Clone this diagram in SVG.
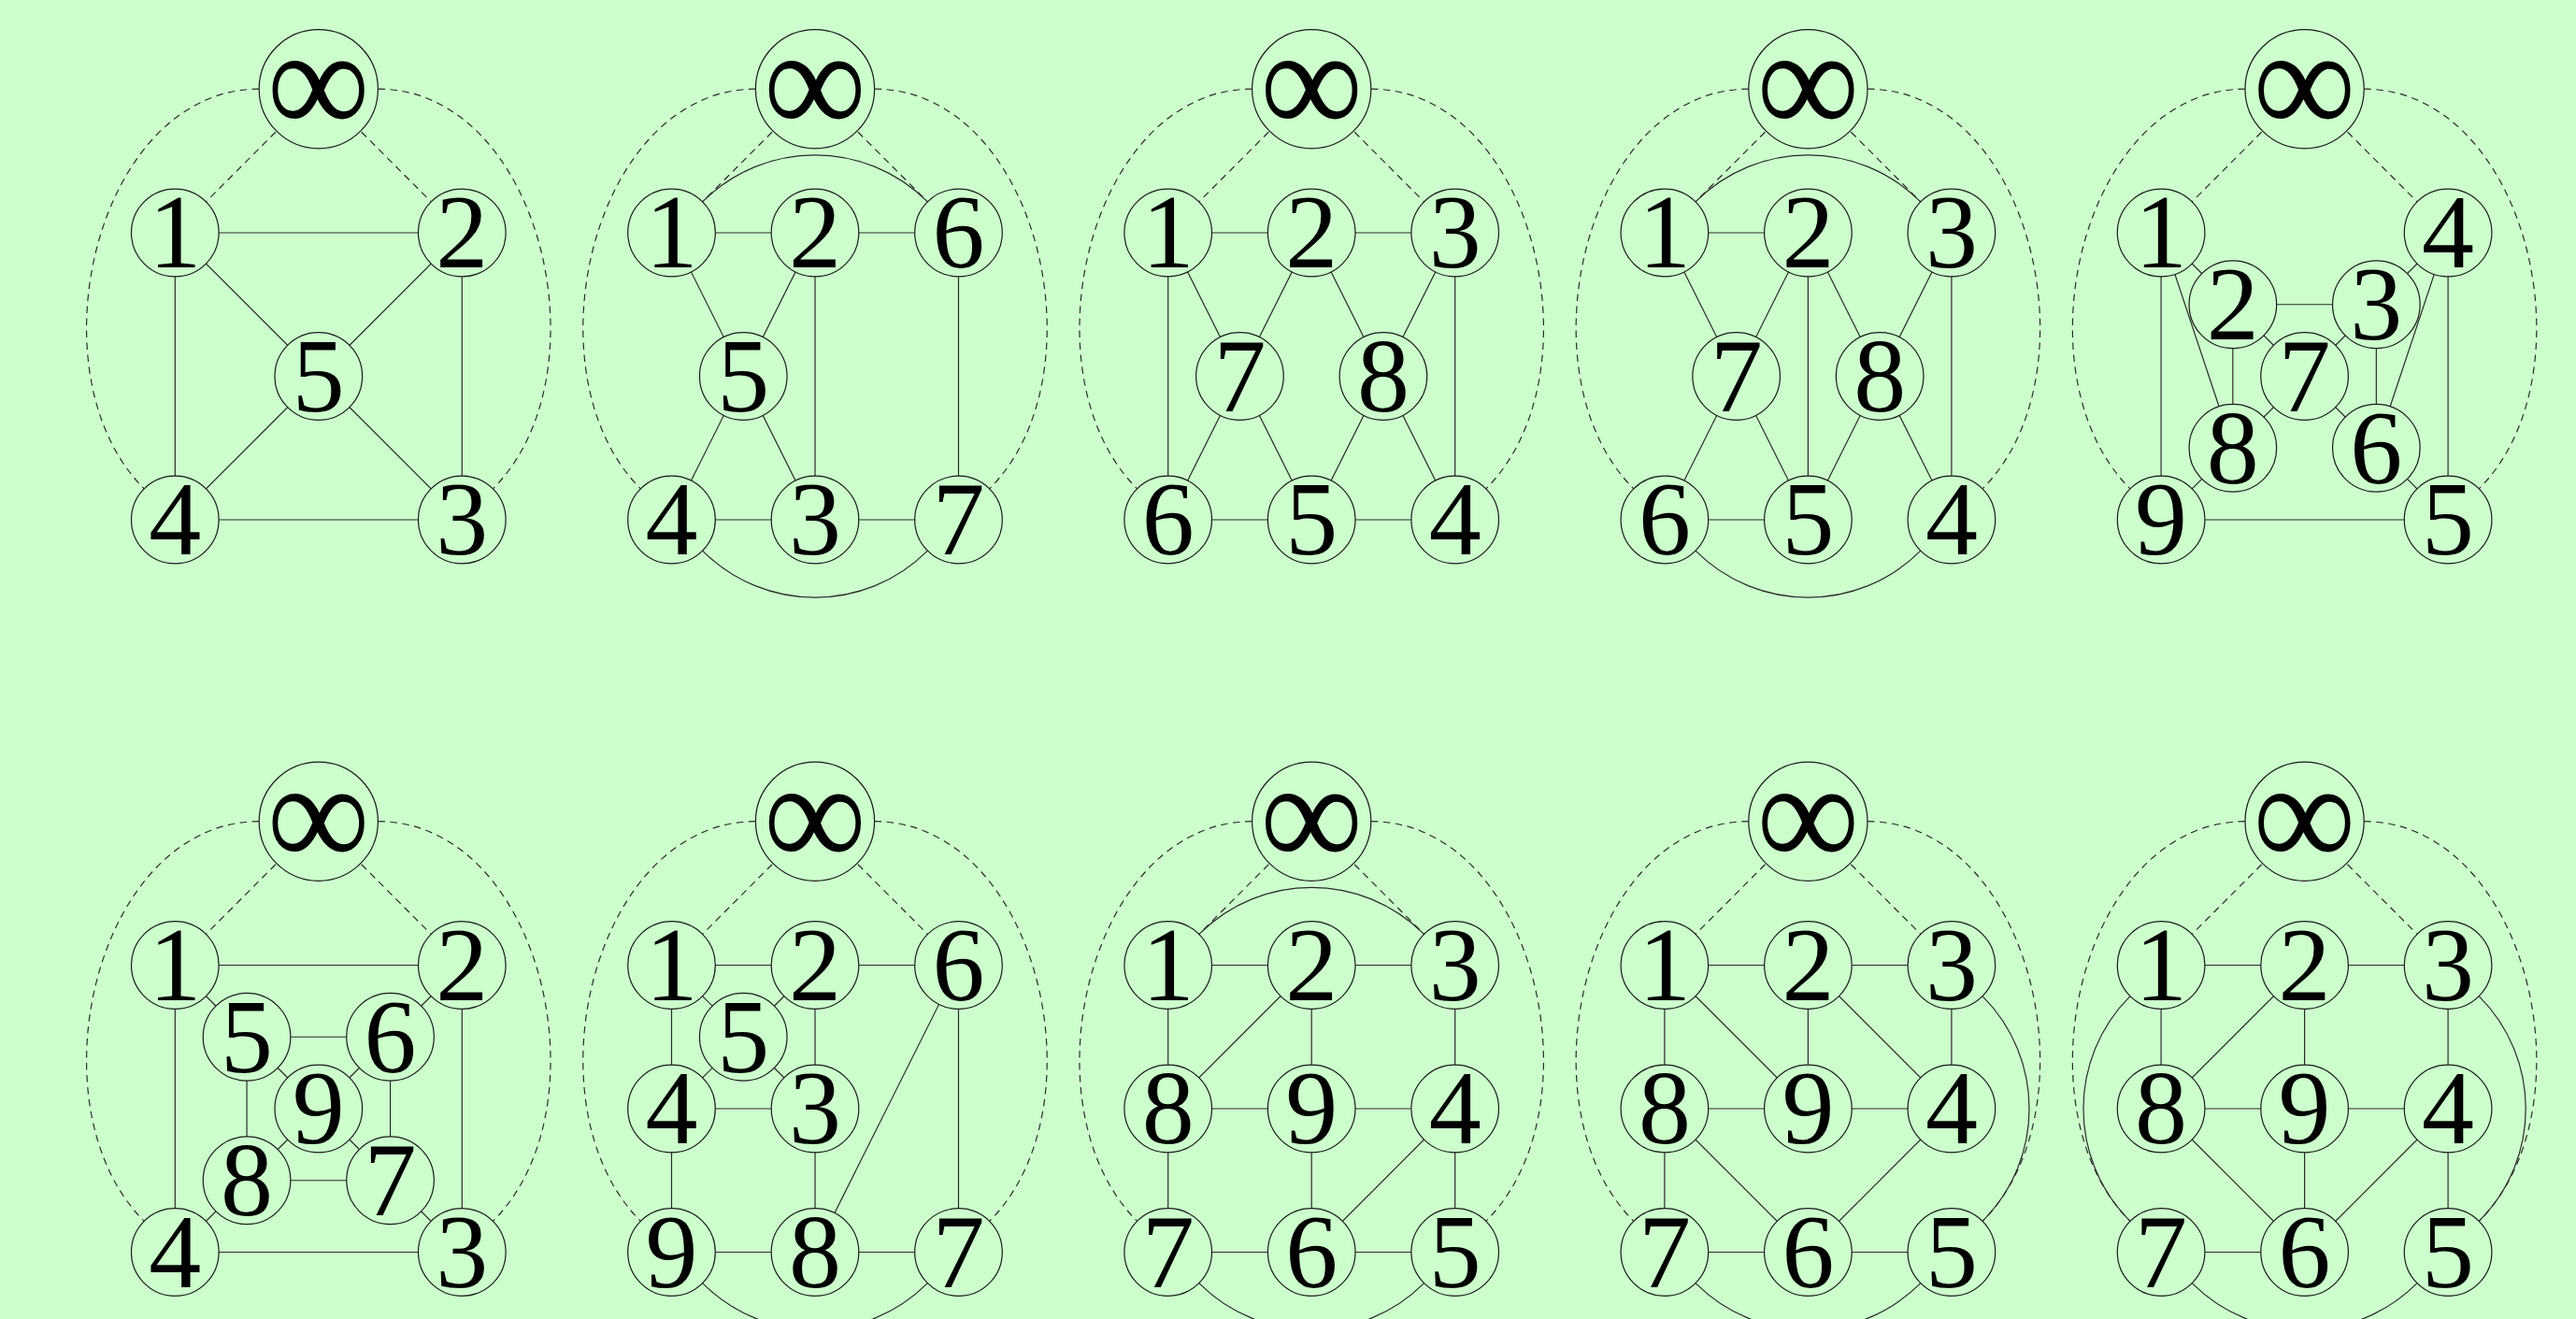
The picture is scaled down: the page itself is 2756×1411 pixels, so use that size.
<svg xmlns="http://www.w3.org/2000/svg" width="2756" height="1411" viewBox="0 0 2756 1411">
<style>
.e{stroke:#2a2a2a;stroke-width:1.2;fill:none}
.d{stroke:#2a2a2a;stroke-width:1.2;fill:none;stroke-dasharray:7.5 5.5}
.n circle{fill:#ccffcc;stroke:#1a1a1a;stroke-width:1.2}
.n text{font-family:"Liberation Serif","DejaVu Serif",serif;font-size:112px;text-anchor:middle;fill:#000}
.n text.inf{font-size:165px}
</style>
<defs>
<g id="dash">
<line x1="0" y1="0" x2="-153.5" y2="153.8"/>
<line x1="0" y1="0" x2="153.5" y2="153.8"/>
<path d="M-63.6 0C-237.8 0 -309.8 304.5 -186.6 427.7"/>
<path d="M63.6 0C237.8 0 309.8 304.5 186.6 427.7"/>
</g>
<g id="inf" class="n"><circle cx="0" cy="0" r="63.6"/><text class="inf" x="0" y="49" textLength="110" lengthAdjust="spacingAndGlyphs">∞</text></g>
</defs>
<rect width="2756" height="1411" fill="#ccffcc"/>

<!-- Panel 1 -->
<g id="panel1" transform="translate(340.8,95.2)">
<g id="p1-edges">
<use href="#dash" class="d"/>
<g class="e">
<line x1="-153.5" y1="153.8" x2="153.5" y2="153.8"/>
<line x1="-153.5" y1="153.8" x2="-153.5" y2="460.8"/>
<line x1="153.5" y1="153.8" x2="153.5" y2="460.8"/>
<line x1="-153.5" y1="460.8" x2="153.5" y2="460.8"/>
<line x1="-153.5" y1="153.8" x2="0" y2="307.3"/>
<line x1="153.5" y1="153.8" x2="0" y2="307.3"/>
<line x1="-153.5" y1="460.8" x2="0" y2="307.3"/>
<line x1="153.5" y1="460.8" x2="0" y2="307.3"/>
</g>
</g>
<g id="p1-inf"><use href="#inf"/></g>
<g id="p1-n1" class="n"><circle cx="-153.5" cy="153.8" r="46.8"/><text x="-153.5" y="191.3">1</text></g>
<g id="p1-n2" class="n"><circle cx="153.5" cy="153.8" r="46.8"/><text x="153.5" y="191.3">2</text></g>
<g id="p1-n5" class="n"><circle cx="0" cy="307.3" r="46.8"/><text x="0" y="344.8">5</text></g>
<g id="p1-n4" class="n"><circle cx="-153.5" cy="460.8" r="46.8"/><text x="-153.5" y="498.3">4</text></g>
<g id="p1-n3" class="n"><circle cx="153.5" cy="460.8" r="46.8"/><text x="153.5" y="498.3">3</text></g>
</g>

<!-- Panel 2 -->
<g id="panel2" transform="translate(872,95.2)">
<g id="p2-edges">
<use href="#dash" class="d"/>
<g class="e">
<line x1="-153.5" y1="153.8" x2="0" y2="153.8"/>
<line x1="0" y1="153.8" x2="153.5" y2="153.8"/>
<line x1="-153.5" y1="153.8" x2="-76.75" y2="307.3"/>
<line x1="0" y1="153.8" x2="-76.75" y2="307.3"/>
<line x1="0" y1="153.8" x2="0" y2="460.8"/>
<line x1="-76.75" y1="307.3" x2="-153.5" y2="460.8"/>
<line x1="-76.75" y1="307.3" x2="0" y2="460.8"/>
<line x1="-153.5" y1="460.8" x2="0" y2="460.8"/>
<line x1="0" y1="460.8" x2="153.5" y2="460.8"/>
<line x1="153.5" y1="153.8" x2="153.5" y2="460.8"/>
<path d="M-120.4 120.7C-53.7 54 53.7 54 120.4 120.7"/>
<path d="M-120.4 493.9C-53.7 560.6 53.7 560.6 120.4 493.9"/>
</g>
</g>
<g id="p2-inf"><use href="#inf"/></g>
<g id="p2-n1" class="n"><circle cx="-153.5" cy="153.8" r="46.8"/><text x="-153.5" y="191.3">1</text></g>
<g id="p2-n2" class="n"><circle cx="0" cy="153.8" r="46.8"/><text x="0" y="191.3">2</text></g>
<g id="p2-n6" class="n"><circle cx="153.5" cy="153.8" r="46.8"/><text x="153.5" y="191.3">6</text></g>
<g id="p2-n5" class="n"><circle cx="-76.75" cy="307.3" r="46.8"/><text x="-76.75" y="344.8">5</text></g>
<g id="p2-n4" class="n"><circle cx="-153.5" cy="460.8" r="46.8"/><text x="-153.5" y="498.3">4</text></g>
<g id="p2-n3" class="n"><circle cx="0" cy="460.8" r="46.8"/><text x="0" y="498.3">3</text></g>
<g id="p2-n7" class="n"><circle cx="153.5" cy="460.8" r="46.8"/><text x="153.5" y="498.3">7</text></g>
</g>

<!-- Panel 3 -->
<g id="panel3" transform="translate(1403.2,95.2)">
<g id="p3-edges">
<use href="#dash" class="d"/>
<g class="e">
<line x1="-153.5" y1="153.8" x2="0" y2="153.8"/>
<line x1="0" y1="153.8" x2="153.5" y2="153.8"/>
<line x1="-153.5" y1="153.8" x2="-153.5" y2="460.8"/>
<line x1="153.5" y1="153.8" x2="153.5" y2="460.8"/>
<line x1="-153.5" y1="460.8" x2="0" y2="460.8"/>
<line x1="0" y1="460.8" x2="153.5" y2="460.8"/>
<line x1="-153.5" y1="153.8" x2="-76.75" y2="307.3"/>
<line x1="0" y1="153.8" x2="-76.75" y2="307.3"/>
<line x1="0" y1="153.8" x2="76.75" y2="307.3"/>
<line x1="153.5" y1="153.8" x2="76.75" y2="307.3"/>
<line x1="-76.75" y1="307.3" x2="-153.5" y2="460.8"/>
<line x1="-76.75" y1="307.3" x2="0" y2="460.8"/>
<line x1="76.75" y1="307.3" x2="0" y2="460.8"/>
<line x1="76.75" y1="307.3" x2="153.5" y2="460.8"/>
</g>
</g>
<g id="p3-inf"><use href="#inf"/></g>
<g id="p3-n1" class="n"><circle cx="-153.5" cy="153.8" r="46.8"/><text x="-153.5" y="191.3">1</text></g>
<g id="p3-n2" class="n"><circle cx="0" cy="153.8" r="46.8"/><text x="0" y="191.3">2</text></g>
<g id="p3-n3" class="n"><circle cx="153.5" cy="153.8" r="46.8"/><text x="153.5" y="191.3">3</text></g>
<g id="p3-n7" class="n"><circle cx="-76.75" cy="307.3" r="46.8"/><text x="-76.75" y="344.8">7</text></g>
<g id="p3-n8" class="n"><circle cx="76.75" cy="307.3" r="46.8"/><text x="76.75" y="344.8">8</text></g>
<g id="p3-n6" class="n"><circle cx="-153.5" cy="460.8" r="46.8"/><text x="-153.5" y="498.3">6</text></g>
<g id="p3-n5" class="n"><circle cx="0" cy="460.8" r="46.8"/><text x="0" y="498.3">5</text></g>
<g id="p3-n4" class="n"><circle cx="153.5" cy="460.8" r="46.8"/><text x="153.5" y="498.3">4</text></g>
</g>

<!-- Panel 4 -->
<g id="panel4" transform="translate(1934.4,95.2)">
<g id="p4-edges">
<use href="#dash" class="d"/>
<g class="e">
<line x1="-153.5" y1="153.8" x2="0" y2="153.8"/>
<line x1="-153.5" y1="153.8" x2="-76.75" y2="307.3"/>
<line x1="0" y1="153.8" x2="-76.75" y2="307.3"/>
<line x1="0" y1="153.8" x2="76.75" y2="307.3"/>
<line x1="153.5" y1="153.8" x2="76.75" y2="307.3"/>
<line x1="0" y1="153.8" x2="0" y2="460.8"/>
<line x1="153.5" y1="153.8" x2="153.5" y2="460.8"/>
<line x1="-76.75" y1="307.3" x2="-153.5" y2="460.8"/>
<line x1="-76.75" y1="307.3" x2="0" y2="460.8"/>
<line x1="76.75" y1="307.3" x2="0" y2="460.8"/>
<line x1="76.75" y1="307.3" x2="153.5" y2="460.8"/>
<line x1="-153.5" y1="460.8" x2="0" y2="460.8"/>
<path d="M-120.4 120.7C-53.7 54 53.7 54 120.4 120.7"/>
<path d="M-120.4 493.9C-53.7 560.6 53.7 560.6 120.4 493.9"/>
</g>
</g>
<g id="p4-inf"><use href="#inf"/></g>
<g id="p4-n1" class="n"><circle cx="-153.5" cy="153.8" r="46.8"/><text x="-153.5" y="191.3">1</text></g>
<g id="p4-n2" class="n"><circle cx="0" cy="153.8" r="46.8"/><text x="0" y="191.3">2</text></g>
<g id="p4-n3" class="n"><circle cx="153.5" cy="153.8" r="46.8"/><text x="153.5" y="191.3">3</text></g>
<g id="p4-n7" class="n"><circle cx="-76.75" cy="307.3" r="46.8"/><text x="-76.75" y="344.8">7</text></g>
<g id="p4-n8" class="n"><circle cx="76.75" cy="307.3" r="46.8"/><text x="76.75" y="344.8">8</text></g>
<g id="p4-n6" class="n"><circle cx="-153.5" cy="460.8" r="46.8"/><text x="-153.5" y="498.3">6</text></g>
<g id="p4-n5" class="n"><circle cx="0" cy="460.8" r="46.8"/><text x="0" y="498.3">5</text></g>
<g id="p4-n4" class="n"><circle cx="153.5" cy="460.8" r="46.8"/><text x="153.5" y="498.3">4</text></g>
</g>

<!-- Panel 5 -->
<g id="panel5" transform="translate(2465.6,95.2)">
<g id="p5-edges">
<use href="#dash" class="d"/>
<g class="e">
<line x1="-153.5" y1="153.8" x2="-153.5" y2="460.8"/>
<line x1="153.5" y1="153.8" x2="153.5" y2="460.8"/>
<line x1="-153.5" y1="460.8" x2="153.5" y2="460.8"/>
<line x1="-153.5" y1="153.8" x2="-76.75" y2="230.55"/>
<line x1="153.5" y1="153.8" x2="76.75" y2="230.55"/>
<line x1="-153.5" y1="153.8" x2="-76.75" y2="384.05"/>
<line x1="153.5" y1="153.8" x2="76.75" y2="384.05"/>
<line x1="-76.75" y1="230.55" x2="76.75" y2="230.55"/>
<line x1="-76.75" y1="230.55" x2="-76.75" y2="384.05"/>
<line x1="76.75" y1="230.55" x2="76.75" y2="384.05"/>
<line x1="-76.75" y1="230.55" x2="0" y2="307.3"/>
<line x1="76.75" y1="230.55" x2="0" y2="307.3"/>
<line x1="-76.75" y1="384.05" x2="0" y2="307.3"/>
<line x1="76.75" y1="384.05" x2="0" y2="307.3"/>
<line x1="-76.75" y1="384.05" x2="-153.5" y2="460.8"/>
<line x1="76.75" y1="384.05" x2="153.5" y2="460.8"/>
</g>
</g>
<g id="p5-inf"><use href="#inf"/></g>
<g id="p5-n1" class="n"><circle cx="-153.5" cy="153.8" r="46.8"/><text x="-153.5" y="191.3">1</text></g>
<g id="p5-n4" class="n"><circle cx="153.5" cy="153.8" r="46.8"/><text x="153.5" y="191.3">4</text></g>
<g id="p5-n2" class="n"><circle cx="-76.75" cy="230.55" r="46.8"/><text x="-76.75" y="268.05">2</text></g>
<g id="p5-n3" class="n"><circle cx="76.75" cy="230.55" r="46.8"/><text x="76.75" y="268.05">3</text></g>
<g id="p5-n7" class="n"><circle cx="0" cy="307.3" r="46.8"/><text x="0" y="344.8">7</text></g>
<g id="p5-n8" class="n"><circle cx="-76.75" cy="384.05" r="46.8"/><text x="-76.75" y="421.55">8</text></g>
<g id="p5-n6" class="n"><circle cx="76.75" cy="384.05" r="46.8"/><text x="76.75" y="421.55">6</text></g>
<g id="p5-n9" class="n"><circle cx="-153.5" cy="460.8" r="46.8"/><text x="-153.5" y="498.3">9</text></g>
<g id="p5-n5" class="n"><circle cx="153.5" cy="460.8" r="46.8"/><text x="153.5" y="498.3">5</text></g>
</g>

<!-- Panel 6 -->
<g id="panel6" transform="translate(340.8,878.7)">
<g id="p6-edges">
<use href="#dash" class="d"/>
<g class="e">
<line x1="-153.5" y1="153.8" x2="153.5" y2="153.8"/>
<line x1="-153.5" y1="153.8" x2="-153.5" y2="460.8"/>
<line x1="153.5" y1="153.8" x2="153.5" y2="460.8"/>
<line x1="-153.5" y1="460.8" x2="153.5" y2="460.8"/>
<line x1="-153.5" y1="153.8" x2="-76.75" y2="230.55"/>
<line x1="153.5" y1="153.8" x2="76.75" y2="230.55"/>
<line x1="-153.5" y1="460.8" x2="-76.75" y2="384.05"/>
<line x1="153.5" y1="460.8" x2="76.75" y2="384.05"/>
<line x1="-76.75" y1="230.55" x2="76.75" y2="230.55"/>
<line x1="-76.75" y1="230.55" x2="-76.75" y2="384.05"/>
<line x1="76.75" y1="230.55" x2="76.75" y2="384.05"/>
<line x1="-76.75" y1="384.05" x2="76.75" y2="384.05"/>
<line x1="-76.75" y1="230.55" x2="0" y2="307.3"/>
<line x1="76.75" y1="230.55" x2="0" y2="307.3"/>
<line x1="-76.75" y1="384.05" x2="0" y2="307.3"/>
<line x1="76.75" y1="384.05" x2="0" y2="307.3"/>
</g>
</g>
<g id="p6-inf"><use href="#inf"/></g>
<g id="p6-n1" class="n"><circle cx="-153.5" cy="153.8" r="46.8"/><text x="-153.5" y="191.3">1</text></g>
<g id="p6-n2" class="n"><circle cx="153.5" cy="153.8" r="46.8"/><text x="153.5" y="191.3">2</text></g>
<g id="p6-n5" class="n"><circle cx="-76.75" cy="230.55" r="46.8"/><text x="-76.75" y="268.05">5</text></g>
<g id="p6-n6" class="n"><circle cx="76.75" cy="230.55" r="46.8"/><text x="76.75" y="268.05">6</text></g>
<g id="p6-n9" class="n"><circle cx="0" cy="307.3" r="46.8"/><text x="0" y="344.8">9</text></g>
<g id="p6-n8" class="n"><circle cx="-76.75" cy="384.05" r="46.8"/><text x="-76.75" y="421.55">8</text></g>
<g id="p6-n7" class="n"><circle cx="76.75" cy="384.05" r="46.8"/><text x="76.75" y="421.55">7</text></g>
<g id="p6-n4" class="n"><circle cx="-153.5" cy="460.8" r="46.8"/><text x="-153.5" y="498.3">4</text></g>
<g id="p6-n3" class="n"><circle cx="153.5" cy="460.8" r="46.8"/><text x="153.5" y="498.3">3</text></g>
</g>

<!-- Panel 7 -->
<g id="panel7" transform="translate(872,878.7)">
<g id="p7-edges">
<use href="#dash" class="d"/>
<g class="e">
<line x1="-153.5" y1="153.8" x2="0" y2="153.8"/>
<line x1="0" y1="153.8" x2="153.5" y2="153.8"/>
<line x1="-153.5" y1="153.8" x2="-76.75" y2="230.55"/>
<line x1="0" y1="153.8" x2="-76.75" y2="230.55"/>
<line x1="-153.5" y1="153.8" x2="-153.5" y2="460.8"/>
<line x1="0" y1="153.8" x2="0" y2="460.8"/>
<line x1="-153.5" y1="307.3" x2="-76.75" y2="230.55"/>
<line x1="0" y1="307.3" x2="-76.75" y2="230.55"/>
<line x1="-153.5" y1="307.3" x2="0" y2="307.3"/>
<line x1="-153.5" y1="460.8" x2="153.5" y2="460.8"/>
<line x1="153.5" y1="153.8" x2="153.5" y2="460.8"/>
<line x1="153.5" y1="153.8" x2="0" y2="460.8"/>
<path d="M-120.4 493.9C-53.7 560.6 53.7 560.6 120.4 493.9"/>
</g>
</g>
<g id="p7-inf"><use href="#inf"/></g>
<g id="p7-n1" class="n"><circle cx="-153.5" cy="153.8" r="46.8"/><text x="-153.5" y="191.3">1</text></g>
<g id="p7-n2" class="n"><circle cx="0" cy="153.8" r="46.8"/><text x="0" y="191.3">2</text></g>
<g id="p7-n6" class="n"><circle cx="153.5" cy="153.8" r="46.8"/><text x="153.5" y="191.3">6</text></g>
<g id="p7-n5" class="n"><circle cx="-76.75" cy="230.55" r="46.8"/><text x="-76.75" y="268.05">5</text></g>
<g id="p7-n4" class="n"><circle cx="-153.5" cy="307.3" r="46.8"/><text x="-153.5" y="344.8">4</text></g>
<g id="p7-n3" class="n"><circle cx="0" cy="307.3" r="46.8"/><text x="0" y="344.8">3</text></g>
<g id="p7-n9" class="n"><circle cx="-153.5" cy="460.8" r="46.8"/><text x="-153.5" y="498.3">9</text></g>
<g id="p7-n8" class="n"><circle cx="0" cy="460.8" r="46.8"/><text x="0" y="498.3">8</text></g>
<g id="p7-n7" class="n"><circle cx="153.5" cy="460.8" r="46.8"/><text x="153.5" y="498.3">7</text></g>
</g>

<!-- Panel 8 -->
<g id="panel8" transform="translate(1403.2,878.7)">
<g id="p8-edges">
<use href="#dash" class="d"/>
<g class="e">
<line x1="-153.5" y1="153.8" x2="153.5" y2="153.8"/>
<line x1="-153.5" y1="307.3" x2="153.5" y2="307.3"/>
<line x1="-153.5" y1="460.8" x2="153.5" y2="460.8"/>
<line x1="-153.5" y1="153.8" x2="-153.5" y2="460.8"/>
<line x1="0" y1="153.8" x2="0" y2="460.8"/>
<line x1="153.5" y1="153.8" x2="153.5" y2="460.8"/>
<line x1="0" y1="153.8" x2="-153.5" y2="307.3"/>
<line x1="153.5" y1="307.3" x2="0" y2="460.8"/>
<path d="M-120.4 120.7C-53.7 54 53.7 54 120.4 120.7"/>
<path d="M-120.4 493.9C-53.7 560.6 53.7 560.6 120.4 493.9"/>
</g>
</g>
<g id="p8-inf"><use href="#inf"/></g>
<g id="p8-n1" class="n"><circle cx="-153.5" cy="153.8" r="46.8"/><text x="-153.5" y="191.3">1</text></g>
<g id="p8-n2" class="n"><circle cx="0" cy="153.8" r="46.8"/><text x="0" y="191.3">2</text></g>
<g id="p8-n3" class="n"><circle cx="153.5" cy="153.8" r="46.8"/><text x="153.5" y="191.3">3</text></g>
<g id="p8-n8" class="n"><circle cx="-153.5" cy="307.3" r="46.8"/><text x="-153.5" y="344.8">8</text></g>
<g id="p8-n9" class="n"><circle cx="0" cy="307.3" r="46.8"/><text x="0" y="344.8">9</text></g>
<g id="p8-n4" class="n"><circle cx="153.5" cy="307.3" r="46.8"/><text x="153.5" y="344.8">4</text></g>
<g id="p8-n7" class="n"><circle cx="-153.5" cy="460.8" r="46.8"/><text x="-153.5" y="498.3">7</text></g>
<g id="p8-n6" class="n"><circle cx="0" cy="460.8" r="46.8"/><text x="0" y="498.3">6</text></g>
<g id="p8-n5" class="n"><circle cx="153.5" cy="460.8" r="46.8"/><text x="153.5" y="498.3">5</text></g>
</g>

<!-- Panel 9 -->
<g id="panel9" transform="translate(1934.4,878.7)">
<g id="p9-edges">
<use href="#dash" class="d"/>
<g class="e">
<line x1="-153.5" y1="153.8" x2="153.5" y2="153.8"/>
<line x1="-153.5" y1="307.3" x2="153.5" y2="307.3"/>
<line x1="-153.5" y1="460.8" x2="153.5" y2="460.8"/>
<line x1="-153.5" y1="153.8" x2="-153.5" y2="460.8"/>
<line x1="0" y1="153.8" x2="0" y2="307.3"/>
<line x1="153.5" y1="153.8" x2="153.5" y2="307.3"/>
<line x1="-153.5" y1="153.8" x2="0" y2="307.3"/>
<line x1="0" y1="153.8" x2="153.5" y2="307.3"/>
<line x1="-153.5" y1="307.3" x2="0" y2="460.8"/>
<line x1="153.5" y1="307.3" x2="0" y2="460.8"/>
<path d="M186.6 186.9C253.3 253.6 253.3 361 186.6 427.7"/>
<path d="M-120.4 493.9C-53.7 560.6 53.7 560.6 120.4 493.9"/>
</g>
</g>
<g id="p9-inf"><use href="#inf"/></g>
<g id="p9-n1" class="n"><circle cx="-153.5" cy="153.8" r="46.8"/><text x="-153.5" y="191.3">1</text></g>
<g id="p9-n2" class="n"><circle cx="0" cy="153.8" r="46.8"/><text x="0" y="191.3">2</text></g>
<g id="p9-n3" class="n"><circle cx="153.5" cy="153.8" r="46.8"/><text x="153.5" y="191.3">3</text></g>
<g id="p9-n8" class="n"><circle cx="-153.5" cy="307.3" r="46.8"/><text x="-153.5" y="344.8">8</text></g>
<g id="p9-n9" class="n"><circle cx="0" cy="307.3" r="46.8"/><text x="0" y="344.8">9</text></g>
<g id="p9-n4" class="n"><circle cx="153.5" cy="307.3" r="46.8"/><text x="153.5" y="344.8">4</text></g>
<g id="p9-n7" class="n"><circle cx="-153.5" cy="460.8" r="46.8"/><text x="-153.5" y="498.3">7</text></g>
<g id="p9-n6" class="n"><circle cx="0" cy="460.8" r="46.8"/><text x="0" y="498.3">6</text></g>
<g id="p9-n5" class="n"><circle cx="153.5" cy="460.8" r="46.8"/><text x="153.5" y="498.3">5</text></g>
</g>

<!-- Panel 10 -->
<g id="panel10" transform="translate(2465.6,878.7)">
<g id="p10-edges">
<use href="#dash" class="d"/>
<g class="e">
<line x1="-153.5" y1="153.8" x2="153.5" y2="153.8"/>
<line x1="-153.5" y1="307.3" x2="153.5" y2="307.3"/>
<line x1="-153.5" y1="460.8" x2="0" y2="460.8"/>
<line x1="-153.5" y1="153.8" x2="-153.5" y2="307.3"/>
<line x1="0" y1="153.8" x2="0" y2="460.8"/>
<line x1="153.5" y1="153.8" x2="153.5" y2="460.8"/>
<line x1="0" y1="153.8" x2="-153.5" y2="307.3"/>
<line x1="-153.5" y1="307.3" x2="0" y2="460.8"/>
<line x1="153.5" y1="307.3" x2="0" y2="460.8"/>
<path d="M-186.6 186.9C-253.3 253.6 -253.3 361 -186.6 427.7"/>
<path d="M186.6 186.9C253.3 253.6 253.3 361 186.6 427.7"/>
<path d="M-120.4 493.9C-53.7 560.6 53.7 560.6 120.4 493.9"/>
</g>
</g>
<g id="p10-inf"><use href="#inf"/></g>
<g id="p10-n1" class="n"><circle cx="-153.5" cy="153.8" r="46.8"/><text x="-153.5" y="191.3">1</text></g>
<g id="p10-n2" class="n"><circle cx="0" cy="153.8" r="46.8"/><text x="0" y="191.3">2</text></g>
<g id="p10-n3" class="n"><circle cx="153.5" cy="153.8" r="46.8"/><text x="153.5" y="191.3">3</text></g>
<g id="p10-n8" class="n"><circle cx="-153.5" cy="307.3" r="46.8"/><text x="-153.5" y="344.8">8</text></g>
<g id="p10-n9" class="n"><circle cx="0" cy="307.3" r="46.8"/><text x="0" y="344.8">9</text></g>
<g id="p10-n4" class="n"><circle cx="153.5" cy="307.3" r="46.8"/><text x="153.5" y="344.8">4</text></g>
<g id="p10-n7" class="n"><circle cx="-153.5" cy="460.8" r="46.8"/><text x="-153.5" y="498.3">7</text></g>
<g id="p10-n6" class="n"><circle cx="0" cy="460.8" r="46.8"/><text x="0" y="498.3">6</text></g>
<g id="p10-n5" class="n"><circle cx="153.5" cy="460.8" r="46.8"/><text x="153.5" y="498.3">5</text></g>
</g>
</svg>
